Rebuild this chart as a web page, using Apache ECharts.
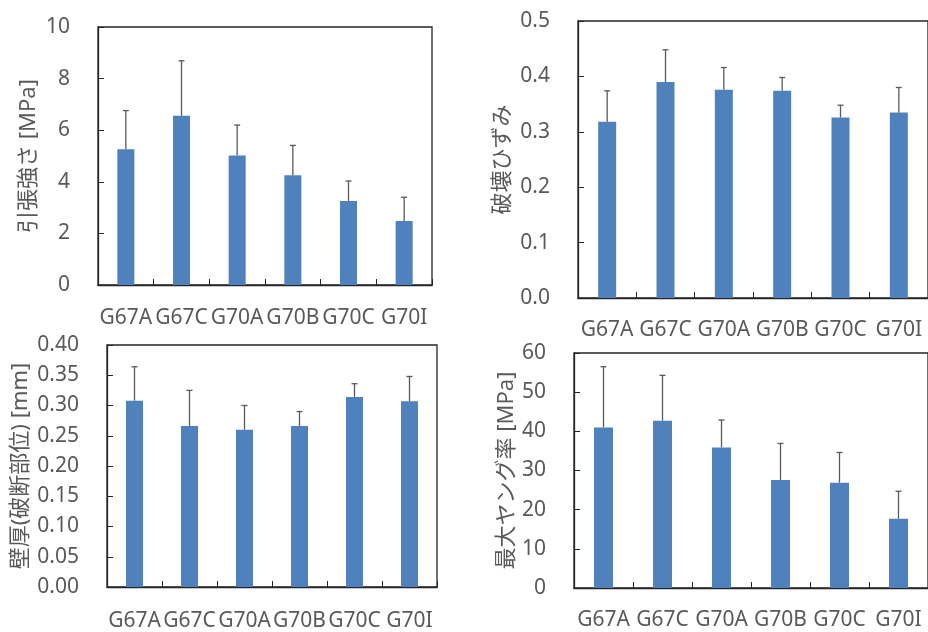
<!DOCTYPE html>
<html>
<head>
<meta charset="utf-8">
<script src="https://cdn.jsdelivr.net/npm/echarts@6/dist/echarts.min.js"></script>
<style>
  html, body { margin: 0; padding: 0; background: #ffffff; }
  #chart { width: 928px; height: 632px; }
</style>
</head>
<body>
<div id="chart"></div>
<script>
// samples
const categories = ['G67A', 'G67C', 'G70A', 'G70B', 'G70C', 'G70I'];

// 引張強さ [MPa]
const tensileMean = [5.26, 6.56, 5.02, 4.25, 3.26, 2.48];
const tensileSd = [1.50, 2.13, 1.18, 1.16, 0.77, 0.92];

// 破壊ひずみ
const strainMean = [0.318, 0.390, 0.376, 0.374, 0.326, 0.335];
const strainSd = [0.056, 0.058, 0.040, 0.024, 0.022, 0.045];

// 壁厚(破断部位) [mm]
const thickMean = [0.308, 0.266, 0.260, 0.266, 0.314, 0.307];
const thickSd = [0.056, 0.059, 0.040, 0.024, 0.022, 0.041];

// 最大ヤング率 [MPa]
const modulusMean = [41.0, 42.7, 35.9, 27.6, 26.9, 17.7];
const modulusSd = [15.5, 11.6, 7.0, 9.3, 7.7, 7.0];

const textColor = '#595959';
const lineColor = '#262626';
const barColor = '#4f81bd';
const font = "'Noto Sans', 'Noto Sans CJK JP', sans-serif";

const panels = [
    { name: '引張強さ [MPa]', mean: tensileMean, sd: tensileSd, min: 0, max: 10, step: 2, digits: 0,
      grid: { left: 98, top: 27, width: 334, height: 258 }, nameGap: 58, barWidth: 17, labelGap: 23 },
    { name: '破壊ひずみ', mean: strainMean, sd: strainSd, min: 0, max: 0.5, step: 0.1, digits: 1,
      grid: { left: 578, top: 21, width: 353, height: 277 }, nameGap: 64, barWidth: 18, labelGap: 22 },
    { name: '壁厚(破断部位) [mm]', mean: thickMean, sd: thickSd, min: 0, max: 0.4, step: 0.05, digits: 2,
      grid: { left: 107, top: 345, width: 330, height: 248 }, nameGap: 75, barWidth: 17, labelGap: 24 },
    { name: '最大ヤング率 [MPa]', mean: modulusMean, sd: modulusSd, min: 0, max: 60, step: 10, digits: 0,
      grid: { left: 574, top: 353, width: 364, height: 235 }, nameGap: 50, barWidth: 19, labelGap: 22 },
];

function errorBar(params, api) {
    const x = api.value(0);
    const y = api.value(1);
    const e = api.value(2);
    const p0 = api.coord([x, y]);
    const p1 = api.coord([x, y + e]);
    const style = { stroke: '#595959', lineWidth: 1.3 };
    return {
        type: 'group',
        children: [
            { type: 'line', shape: { x1: p0[0], y1: p0[1], x2: p1[0], y2: p1[1] }, style: style },
            { type: 'line', shape: { x1: p1[0] - 3, y1: p1[1], x2: p1[0] + 3, y2: p1[1] }, style: style },
        ],
    };
}

const option = {
    animation: false,
    textStyle: { fontFamily: font },
    grid: [],
    xAxis: [],
    yAxis: [],
    series: [],
};

panels.forEach((p, i) => {
    option.grid.push(Object.assign({ show: true, borderColor: lineColor, borderWidth: 1.3 }, p.grid));
    option.xAxis.push({
        type: 'category',
        gridIndex: i,
        data: categories,
        axisLine: { lineStyle: { color: lineColor, width: 1.3 } },
        axisTick: { show: true, inside: true, length: 6, lineStyle: { color: lineColor } },
        axisLabel: { color: textColor, fontSize: 21, margin: p.labelGap, fontFamily: font, interval: 0 },
    });
    option.yAxis.push({
        type: 'value',
        gridIndex: i,
        min: p.min,
        max: p.max,
        interval: p.step,
        name: p.name,
        nameLocation: 'middle',
        nameRotate: 90,
        nameGap: p.nameGap,
        nameTextStyle: { color: textColor, fontSize: 22, fontFamily: font },
        axisLine: { show: true, lineStyle: { color: lineColor, width: 1.3 } },
        axisTick: { show: true, inside: true, length: 6, lineStyle: { color: lineColor } },
        splitLine: { show: false },
        axisLabel: {
            color: textColor, fontSize: 21, margin: 28, fontFamily: font,
            formatter: v => v.toFixed(p.digits),
        },
    });
    option.series.push({
        type: 'bar',
        xAxisIndex: i,
        yAxisIndex: i,
        data: p.mean,
        barWidth: p.barWidth,
        itemStyle: { color: barColor },
    });
    option.series.push({
        type: 'custom',
        xAxisIndex: i,
        yAxisIndex: i,
        renderItem: errorBar,
        z: 5,
        data: categories.map((c, k) => [k, p.mean[k], p.sd[k]]),
    });
});

const chart = echarts.init(document.getElementById('chart'));
chart.setOption(option);
</script>
</body>
</html>
